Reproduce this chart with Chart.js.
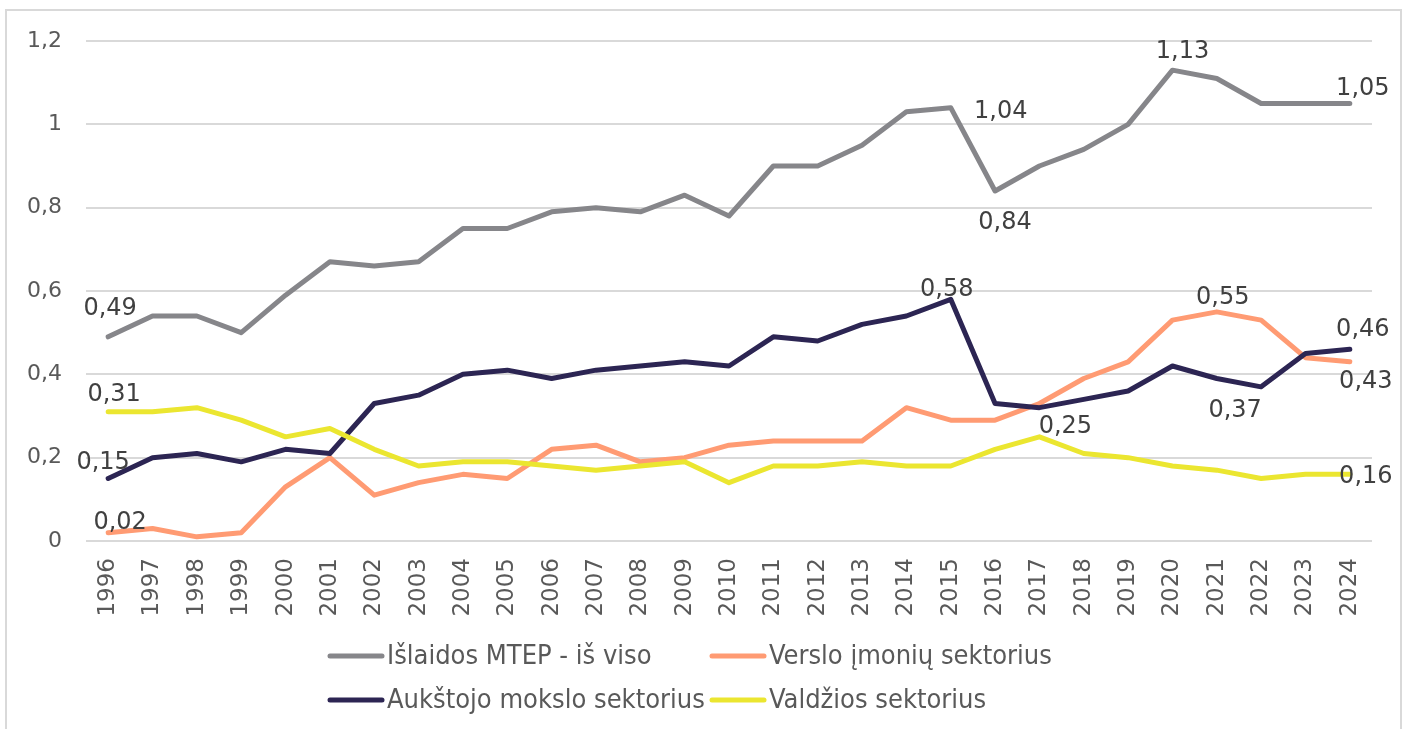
<!DOCTYPE html>
<html>
<head>
<meta charset="utf-8">
<title>MTEP išlaidos</title>
<script src="https://cdn.jsdelivr.net/npm/chart.js@4.4.1/dist/chart.umd.min.js"></script>
<style>
    body { margin: 0; background: #fff; }
    #wrap { position: relative; width: 1407px; height: 729px; }
</style>
</head>
<body>
<div id="wrap"><canvas id="chart"></canvas></div>
<script>
// Data (% of GDP)
const years = ['1996', '1997', '1998', '1999', '2000', '2001', '2002', '2003', '2004', '2005',
    '2006', '2007', '2008', '2009', '2010', '2011', '2012', '2013', '2014', '2015',
    '2016', '2017', '2018', '2019', '2020', '2021', '2022', '2023', '2024'];

const totalSpend = [0.49, 0.54, 0.54, 0.50, 0.59, 0.67, 0.66, 0.67, 0.75, 0.75,
    0.79, 0.80, 0.79, 0.83, 0.78, 0.90, 0.90, 0.95, 1.03, 1.04,
    0.84, 0.90, 0.94, 1.00, 1.13, 1.11, 1.05, 1.05, 1.05];

const businessSector = [0.02, 0.03, 0.01, 0.02, 0.13, 0.20, 0.11, 0.14, 0.16, 0.15,
    0.22, 0.23, 0.19, 0.20, 0.23, 0.24, 0.24, 0.24, 0.32, 0.29,
    0.29, 0.33, 0.39, 0.43, 0.53, 0.55, 0.53, 0.44, 0.43];

const higherEduSector = [0.15, 0.20, 0.21, 0.19, 0.22, 0.21, 0.33, 0.35, 0.40, 0.41,
    0.39, 0.41, 0.42, 0.43, 0.42, 0.49, 0.48, 0.52, 0.54, 0.58,
    0.33, 0.32, 0.34, 0.36, 0.42, 0.39, 0.37, 0.45, 0.46];

const governmentSector = [0.31, 0.31, 0.32, 0.29, 0.25, 0.27, 0.22, 0.18, 0.19, 0.19,
    0.18, 0.17, 0.18, 0.19, 0.14, 0.18, 0.18, 0.19, 0.18, 0.18,
    0.22, 0.25, 0.21, 0.20, 0.18, 0.17, 0.15, 0.16, 0.16];

const seriesNames = ['Išlaidos MTEP - iš viso', 'Verslo įmonių sektorius',
    'Aukštojo mokslo sektorius', 'Valdžios sektorius'];

const yTicks = [0, 0.2, 0.4, 0.6, 0.8, 1, 1.2];

// which points get a value label: [dataset, point index, dx, dy]
const labelSpots = [
    [0, 0, 2, -28], [0, 19, 50, 4], [0, 20, 10, 32], [0, 24, 10, -18], [0, 28, 13, -15],
    [1, 0, 12, -10], [1, 25, 6, -14], [1, 28, 16, 20],
    [2, 0, -5, -16], [2, 19, -4, -10], [2, 26, -26, 24], [2, 28, 13, -20],
    [3, 0, 6, -17], [3, 21, 26, -10], [3, 28, 16, 2]
];

const colors = ['#86868a', '#ff9b73', '#2c2553', '#ebe630'];
const textColor = '#595959';

function fmt(v, digits) {
    return v.toFixed(digits).replace('.', ',');
}

// outer frame
const framePlugin = {
    id: 'frame',
    beforeDraw(chart) {
        const ctx = chart.ctx;
        ctx.save();
        ctx.strokeStyle = '#d9d9d9';
        ctx.lineWidth = 2;
        ctx.strokeRect(6, 10, 1395, 740);
        ctx.restore();
    }
};

// value labels
const valueLabels = {
    id: 'valueLabels',
    afterDatasetsDraw(chart) {
        const ctx = chart.ctx;
        ctx.save();
        ctx.font = '24px "DejaVu Sans", Verdana, sans-serif';
        ctx.fillStyle = '#404040';
        ctx.textAlign = 'center';
        ctx.textBaseline = 'middle';
        labelSpots.forEach(([ds, i, dx, dy]) => {
            const pt = chart.getDatasetMeta(ds).data[i];
            const v = chart.data.datasets[ds].data[i];
            ctx.fillText(fmt(v, 2), pt.x + dx, pt.y + dy);
        });
        ctx.restore();
    }
};

// legend in two fixed columns, like the original
const gridLegend = {
    id: 'gridLegend',
    afterDraw(chart) {
        const ctx = chart.ctx;
        const colX = [328, 710];
        const rowY = [656, 700];
        ctx.save();
        ctx.font = '27px "DejaVu Sans Condensed", "DejaVu Sans", sans-serif';
        ctx.textBaseline = 'middle';
        ctx.textAlign = 'left';
        chart.data.datasets.forEach((d, k) => {
            const x = colX[k % 2];
            const y = rowY[Math.floor(k / 2)];
            ctx.strokeStyle = d.borderColor;
            ctx.lineWidth = 5;
            ctx.lineCap = 'round';
            ctx.beginPath();
            ctx.moveTo(x + 2, y);
            ctx.lineTo(x + 54, y);
            ctx.stroke();
            ctx.fillStyle = textColor;
            ctx.fillText(d.label, x + 59, y + 1);
        });
        ctx.restore();
    }
};

function makeSet(k, values) {
    return {
        label: seriesNames[k],
        data: values,
        borderColor: colors[k],
        backgroundColor: colors[k],
        borderWidth: 5,
        borderCapStyle: 'round',
        borderJoinStyle: 'round',
        pointRadius: 0,
        tension: 0,
        order: 4 - k
    };
}

new Chart(document.getElementById('chart'), {
    type: 'line',
    data: {
        labels: years,
        datasets: [
            makeSet(0, totalSpend),
            makeSet(1, businessSector),
            makeSet(2, higherEduSector),
            makeSet(3, governmentSector)
        ]
    },
    options: {
        responsive: true,
        maintainAspectRatio: false,
        animation: false,
        layout: { padding: { top: 41, right: 35, left: 0, bottom: 0 } },
        plugins: {
            legend: { display: false },
            tooltip: { enabled: false }
        },
        scales: {
            x: {
                offset: true,
                grid: { display: false },
                border: { display: false },
                ticks: {
                    autoSkip: false,
                    minRotation: 90,
                    maxRotation: 90,
                    padding: 9,
                    color: textColor,
                    font: { family: '"DejaVu Sans", Verdana, sans-serif', size: 23 }
                },
                afterFit(scale) { scale.height = 188; }
            },
            y: {
                min: 0,
                max: 1.2,
                afterBuildTicks(scale) {
                    scale.ticks = yTicks.map(v => ({ value: v }));
                },
                grid: { color: '#d9d9d9', lineWidth: 2, drawTicks: false },
                border: { display: false },
                ticks: {
                    padding: 24,
                    color: textColor,
                    font: { family: '"DejaVu Sans", Verdana, sans-serif', size: 22 },
                    callback: v => String(Number(v.toFixed(1))).replace('.', ',')
                },
                afterFit(scale) { scale.width = 86; }
            }
        }
    },
    plugins: [framePlugin, valueLabels, gridLegend]
});
</script>
</body>
</html>
